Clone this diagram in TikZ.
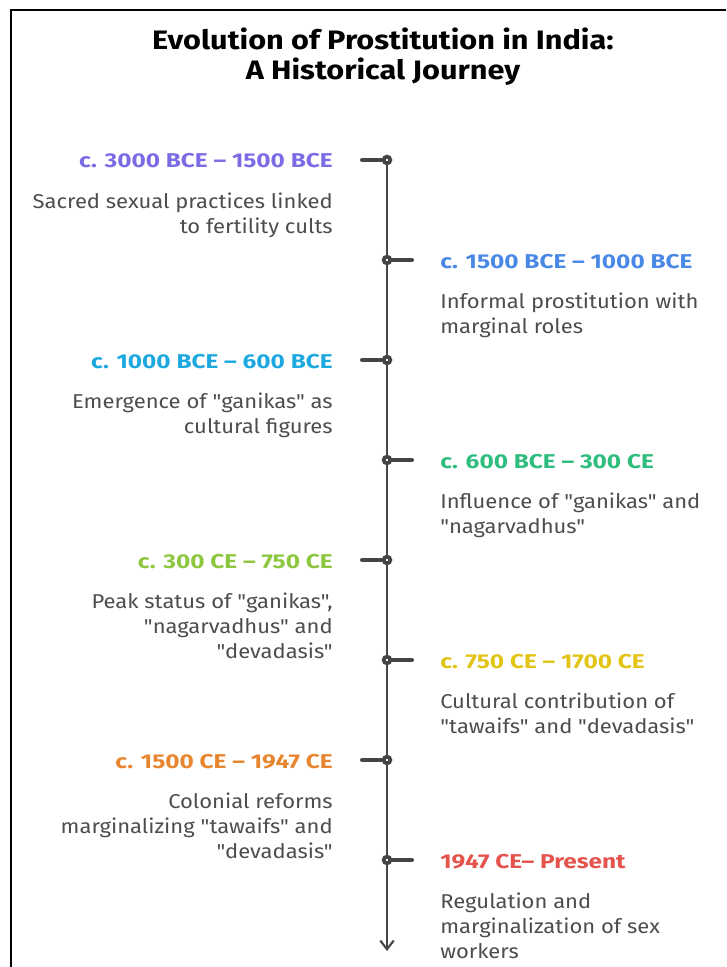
\documentclass[tikz,border=0pt]{standalone}
\usepackage{fontspec}
\setmainfont{Fira Sans}
\newfontfamily\titlefont[FakeStretch=1.15]{Fira Sans}
\newfontfamily\datefont[FakeStretch=1.22]{Fira Sans}
\newfontfamily\descfont[FakeStretch=1.10]{Fira Sans}
\newcommand{\straightq}{\symbol{34}}
\usepackage{tikz}
\usetikzlibrary{arrows.meta,positioning}

\definecolor{spinegray}{HTML}{454545}
\definecolor{descgray}{HTML}{4D4D4D}
\definecolor{colA}{HTML}{7B6CE6}
\definecolor{colB}{HTML}{4A88E6}
\definecolor{colC}{HTML}{1DA9E0}
\definecolor{colD}{HTML}{2EBD7D}
\definecolor{colE}{HTML}{8DC63F}
\definecolor{colF}{HTML}{E3C414}
\definecolor{colG}{HTML}{E8862F}
\definecolor{colH}{HTML}{E4534C}

\tikzset{
  datelbl/.style={font=\datefont\fontsize{15}{18}\selectfont\bfseries, inner sep=0pt},
  desctext/.style={font=\descfont\fontsize{15}{18.75}\selectfont, text=descgray, inner sep=0pt},
  dotmark/.style={circle, draw=spinegray, fill=white, line width=2.8pt, minimum size=5pt, inner sep=0pt},
  spine/.style={draw=spinegray, line width=1.6pt},
  stub/.style={draw=spinegray, line width=3pt, line cap=round}
}

\begin{document}
\begin{tikzpicture}[x=0.75pt,y=0.75pt,yscale=-1,xscale=1]
\useasboundingbox (0,0) rectangle (726,967);

%Frame
\draw[line width=2.2pt] (11,967) -- (11,10) -- (726,10) ;

% Title Node
\node[font=\titlefont\fontsize{20}{22.5}\selectfont\bfseries, align=center, inner sep=0pt] (title) at (383,57) {Evolution of Prostitution in India:\\A Historical Journey};

%Timeline dots
\node[dotmark] (d1) at (387,160) {};
\node[dotmark] (d2) at (387,260) {};
\node[dotmark] (d3) at (387,360) {};
\node[dotmark] (d4) at (387,460) {};
\node[dotmark] (d5) at (387,560) {};
\node[dotmark] (d6) at (387,660) {};
\node[dotmark] (d7) at (387,760) {};
\node[dotmark] (d8) at (387,860) {};
\coordinate (tend) at (387,951);

%Stub ends
\coordinate (s1) at (362,160);
\coordinate (s2) at (412,260);
\coordinate (s3) at (362,360);
\coordinate (s4) at (412,460);
\coordinate (s5) at (362,560);
\coordinate (s6) at (412,660);
\coordinate (s7) at (362,760);
\coordinate (s8) at (412,860);

%Spine
\draw[spine] (d1) -- (d2) ;
\draw[spine] (d2) -- (d3) ;
\draw[spine] (d3) -- (d4) ;
\draw[spine] (d4) -- (d5) ;
\draw[spine] (d5) -- (d6) ;
\draw[spine] (d6) -- (d7) ;
\draw[spine] (d7) -- (d8) ;
\draw[spine, -{Straight Barb[length=6.5pt,width=10pt,line width=1.6pt]}] (d8) -- (tend) ;

%Stubs
\draw[stub] (d1) -- (s1) ;
\draw[stub] (d2) -- (s2) ;
\draw[stub] (d3) -- (s3) ;
\draw[stub] (d4) -- (s4) ;
\draw[stub] (d5) -- (s5) ;
\draw[stub] (d6) -- (s6) ;
\draw[stub] (d7) -- (s7) ;
\draw[stub] (d8) -- (s8) ;

% Text Node
\node[datelbl, text=colA, anchor=east] (t1) at (333,161) {c. 3000 BCE – 1500 BCE};
\node[desctext, anchor=north east, align=right] (x1) at (333,193) {Sacred sexual practices linked\\to fertility cults};
% Text Node
\node[datelbl, text=colB, anchor=west] (t2) at (440,262) {c. 1500 BCE – 1000 BCE};
\node[desctext, anchor=north west, align=left] (x2) at (440,293) {Informal prostitution with\\marginal roles};
% Text Node
\node[datelbl, text=colC, anchor=east] (t3) at (333,362) {c. 1000 BCE – 600 BCE};
\node[desctext, anchor=north east, align=right] (x3) at (333,393) {Emergence of \straightq ganikas\straightq\ as\\cultural figures};
% Text Node
\node[datelbl, text=colD, anchor=west] (t4) at (440,462) {c. 600 BCE – 300 CE};
\node[desctext, anchor=north west, align=left] (x4) at (440,493) {Influence of \straightq ganikas\straightq\ and\\\straightq nagarvadhus\straightq};
% Text Node
\node[datelbl, text=colE, anchor=east] (t5) at (333,562) {c. 300 CE – 750 CE};
\node[desctext, anchor=north east, align=right] (x5) at (333,593) {Peak status of \straightq ganikas\straightq,\\\straightq nagarvadhus\straightq\ and\\\straightq devadasis\straightq};
% Text Node
\node[datelbl, text=colF, anchor=west] (t6) at (440,662) {c. 750 CE – 1700 CE};
\node[desctext, anchor=north west, align=left] (x6) at (440,693) {Cultural contribution of\\\straightq tawaifs\straightq\ and \straightq devadasis\straightq};
% Text Node
\node[datelbl, text=colG, anchor=east] (t7) at (333,762) {c. 1500 CE – 1947 CE};
\node[desctext, anchor=north east, align=right] (x7) at (333,793) {Colonial reforms\\marginalizing \straightq tawaifs\straightq\ and\\\straightq devadasis\straightq};
% Text Node
\node[datelbl, text=colH, anchor=west] (t8) at (440,862) {1947 CE– Present};
\node[desctext, anchor=north west, align=left] (x8) at (440,893) {Regulation and\\marginalization of sex\\workers};

\end{tikzpicture}
\end{document}
